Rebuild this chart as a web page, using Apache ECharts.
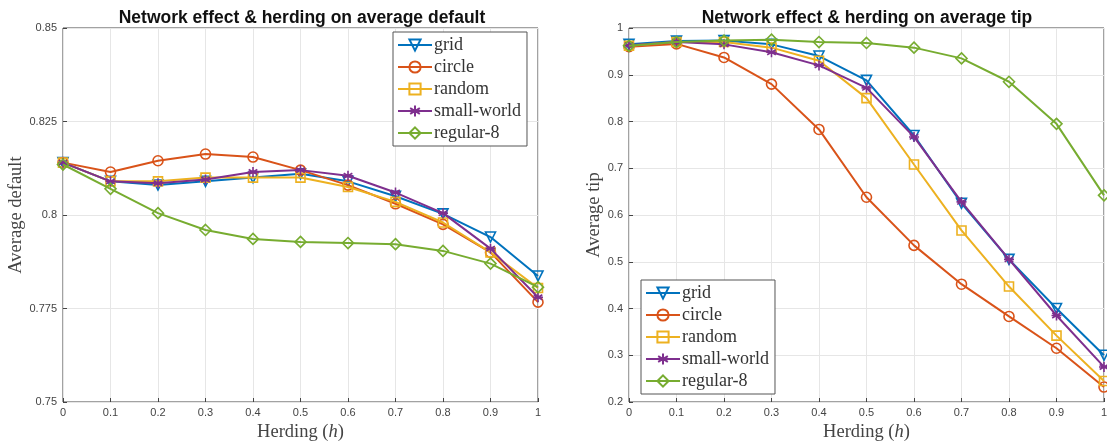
<!DOCTYPE html>
<html><head><meta charset="utf-8">
<script src="https://cdn.jsdelivr.net/npm/echarts@6/dist/echarts.min.js"></script>
<style>html,body{margin:0;padding:0;background:#fff}#c{width:1107px;height:442px}</style>
</head><body><div id="c"></div>
<script>
const herding = [0,0.1,0.2,0.3,0.4,0.5,0.6,0.7,0.8,0.9,1];
const seriesNames = ['grid','circle','random','small-world','regular-8'];
const defaultGrid   = [0.814,0.809,0.808,0.809,0.810,0.811,0.809,0.805,0.8003,0.7941,0.7837];
const defaultCircle = [0.814,0.8115,0.8145,0.8163,0.8155,0.812,0.808,0.803,0.7975,0.790,0.7767];
const defaultRandom = [0.814,0.809,0.809,0.810,0.810,0.810,0.8075,0.8035,0.798,0.790,0.7805];
const defaultSmall  = [0.814,0.809,0.8085,0.8095,0.8115,0.812,0.8105,0.806,0.8005,0.791,0.778];
const defaultReg8   = [0.8135,0.807,0.8005,0.796,0.7936,0.7928,0.7925,0.7922,0.7904,0.787,0.7807];
const tipGrid   = [0.965,0.972,0.973,0.965,0.940,0.888,0.770,0.625,0.505,0.400,0.300];
const tipCircle = [0.960,0.966,0.937,0.880,0.783,0.638,0.535,0.452,0.383,0.315,0.232];
const tipRandom = [0.962,0.970,0.970,0.958,0.930,0.850,0.708,0.567,0.447,0.342,0.245];
const tipSmall  = [0.963,0.970,0.965,0.948,0.920,0.872,0.767,0.628,0.505,0.385,0.275];
const tipReg8   = [0.962,0.970,0.973,0.975,0.970,0.968,0.958,0.935,0.885,0.795,0.642];
const titles = ['Network effect & herding on average default','Network effect & herding on average tip'];
const yNames = ['Average default','Average tip'];
const xName = 'Herding ({it|h})';

const colors = ['#0072BD','#D95319','#EDB120','#7E2F8E','#77AC30'];
const symbols = ['triangle','circle','rect','path://M0,-10L0,10M-8.66,-5L8.66,5M-8.66,5L8.66,-5M-10,0L10,0','diamond'];
const rotates = [180,0,0,0,0];
const sizes = [10,10,9,10,11];
const serif = 'Liberation Serif';
const sans = 'Liberation Sans';

function mk(name, idx, data, axis){
  return {
    name, type:'line', xAxisIndex:axis, yAxisIndex:axis,
    data: herding.map((h,i)=>[h,data[i]]),
    symbol: symbols[idx], symbolRotate: rotates[idx], symbolSize: sizes[idx],
    showAllSymbol:true,
    lineStyle:{color:colors[idx], width:2},
    itemStyle:{color:'rgba(255,255,255,0)', borderColor:colors[idx], borderWidth:1.6},
    emphasis:{disabled:true}, animation:false, z: 2+idx
  };
}
const fmt = v => String(parseFloat(v.toFixed(3)));
function xAx(gi){
  return {gridIndex:gi, type:'value', min:0, max:1, interval:0.1,
    name:xName, nameLocation:'middle', nameGap:16,
    nameTextStyle:{fontFamily:serif, fontSize:18.5, color:'#444', rich:{it:{fontFamily:serif, fontStyle:'italic', fontSize:18.5, color:'#444'}}},
    axisLine:{show:false}, axisTick:{inside:true, length:4, lineStyle:{color:'#444'}},
    axisLabel:{formatter:fmt, fontFamily:sans, fontSize:11, color:'#444', margin:5},
    splitLine:{show:true, lineStyle:{color:'#e6e6e6'}}};
}
function yAx(gi, min, max, interval, gap){
  return {gridIndex:gi, type:'value', min, max, interval,
    name:yNames[gi], nameLocation:'middle', nameGap:gap,
    nameTextStyle:{fontFamily:serif, fontSize:18.5, color:'#444'},
    axisLine:{show:false}, axisTick:{inside:true, length:4, lineStyle:{color:'#444'}},
    axisLabel:{formatter:fmt, fontFamily:sans, fontSize:11, color:'#444', margin:6},
    splitLine:{show:true, lineStyle:{color:'#e6e6e6'}}};
}
function legend(left, top){
  return {orient:'vertical', left, top, data:seriesNames, backgroundColor:'#fff',
    borderColor:'#555', borderWidth:1, padding:[4,6,4,4], itemGap:4, itemWidth:34, itemHeight:14,
    textStyle:{fontFamily:serif, fontSize:18, color:'#333', padding:[0,0,0,-3]}};
}
const gridBase = {top:28, width:475, height:374, show:true, borderColor:'#444', borderWidth:1, backgroundColor:'#fff', outerBoundsMode:'none', containLabel:false};
const chart = echarts.init(document.getElementById('c'));
chart.setOption({
  backgroundColor:'#fff', animation:false,
  title:[
    {text:titles[0], left:297, top:4, textAlign:'center', textStyle:{fontFamily:sans, fontWeight:'bold', fontSize:17.5, color:'#111'}},
    {text:titles[1], left:862, top:4, textAlign:'center', textStyle:{fontFamily:sans, fontWeight:'bold', fontSize:17.5, color:'#111'}}
  ],
  legend:[legend(393,32), legend(641,280)],
  grid:[
    Object.assign({left:63}, gridBase),
    Object.assign({left:629}, gridBase)
  ],
  xAxis:[xAx(0), xAx(1)],
  yAxis:[yAx(0,0.75,0.85,0.025,37), yAx(1,0.2,1,0.1,25)],
  series:[
    mk('grid',0,defaultGrid,0), mk('circle',1,defaultCircle,0), mk('random',2,defaultRandom,0),
    mk('small-world',3,defaultSmall,0), mk('regular-8',4,defaultReg8,0),
    mk('grid',0,tipGrid,1), mk('circle',1,tipCircle,1), mk('random',2,tipRandom,1),
    mk('small-world',3,tipSmall,1), mk('regular-8',4,tipReg8,1)
  ]
});
</script></body></html>
